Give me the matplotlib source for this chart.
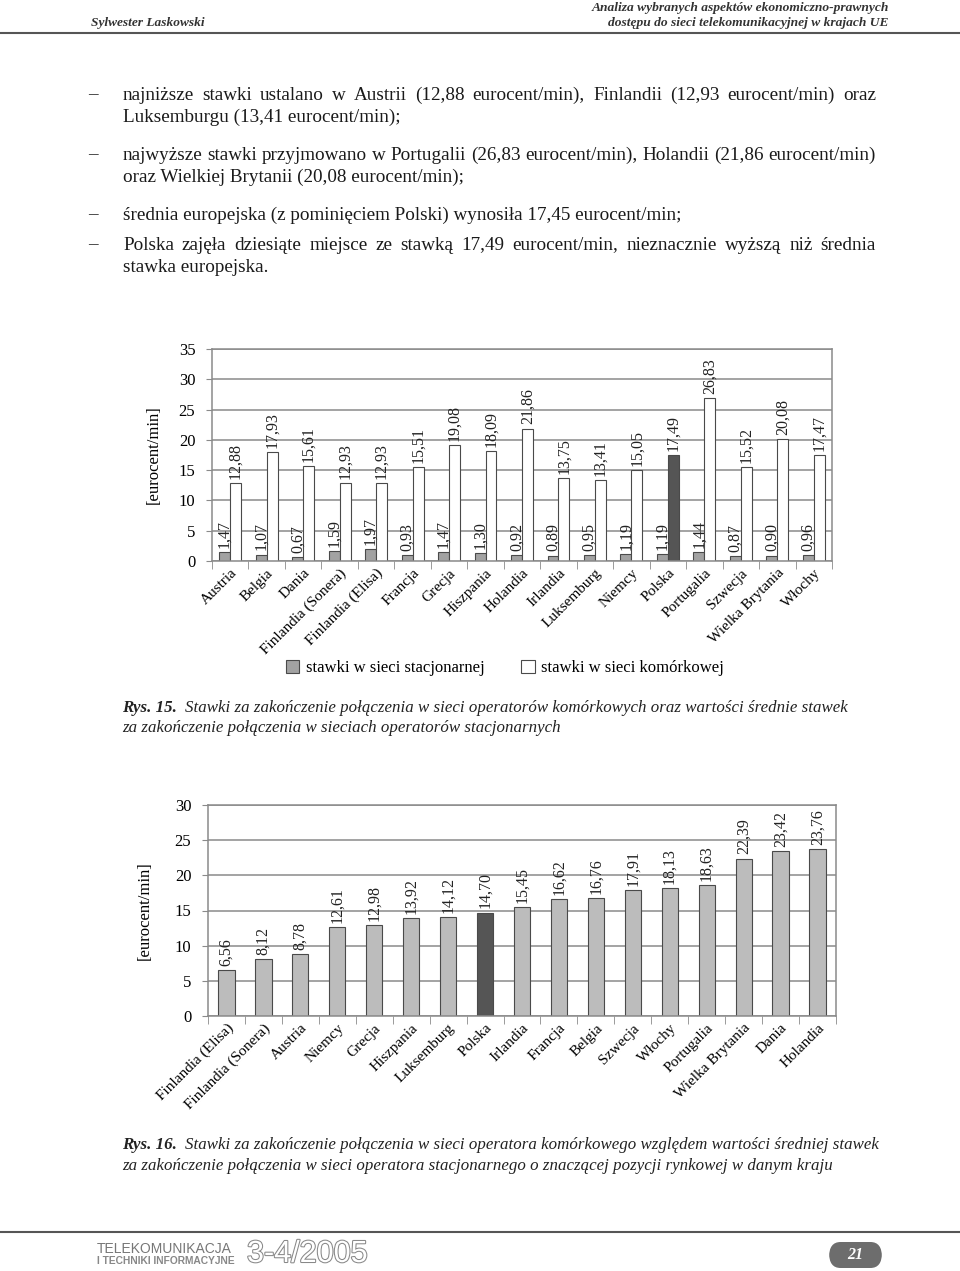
import matplotlib
matplotlib.use("Agg")
import matplotlib.pyplot as plt
import matplotlib.patheffects as pe
from matplotlib.patches import FancyBboxPatch, Rectangle
import numpy as np

W, H = 960, 1271
SERIF = "Liberation Serif"
plt.rcParams["font.family"] = [SERIF, "DejaVu Serif"]

# ---- data: Rys. 15
countries_15 = ["Austria", "Belgia", "Dania", "Finlandia (Sonera)", "Finlandia (Elisa)",
                "Francja", "Grecja", "Hiszpania", "Holandia", "Irlandia", "Luksemburg",
                "Niemcy", "Polska", "Portugalia", "Szwecja", "Wielka Brytania", "Włochy"]
fixed_rates = [1.47, 1.07, 0.67, 1.59, 1.97, 0.93, 1.47, 1.30, 0.92, 0.89, 0.95,
               1.19, 1.19, 1.44, 0.87, 0.90, 0.96]
mobile_rates = [12.88, 17.93, 15.61, 12.93, 12.93, 15.51, 19.08, 18.09, 21.86, 13.75,
                13.41, 15.05, 17.49, 26.83, 15.52, 20.08, 17.47]

# ---- data: Rys. 16
countries_16 = ["Finlandia (Elisa)", "Finlandia (Sonera)", "Austria", "Niemcy", "Grecja",
                "Hiszpania", "Luksemburg", "Polska", "Irlandia", "Francja", "Belgia",
                "Szwecja", "Włochy", "Portugalia", "Wielka Brytania", "Dania", "Holandia"]
ratio_rates = [6.56, 8.12, 8.78, 12.61, 12.98, 13.92, 14.12, 14.70, 15.45, 16.62, 16.76,
               17.91, 18.13, 18.63, 22.39, 23.42, 23.76]

bullets = [
    ["najniższe stawki ustalano w Austrii (12,88 eurocent/min), Finlandii (12,93 eurocent/min) oraz",
     "Luksemburgu (13,41 eurocent/min);"],
    ["najwyższe stawki przyjmowano w Portugalii (26,83 eurocent/min), Holandii (21,86 eurocent/min)",
     "oraz Wielkiej Brytanii (20,08 eurocent/min);"],
    ["średnia europejska (z pominięciem Polski) wynosiła 17,45 eurocent/min;"],
    ["Polska zajęła dziesiąte miejsce ze stawką 17,49 eurocent/min, nieznacznie wyższą niż średnia",
     "stawka europejska."],
]
bullet_y = [(95, 117), (155, 177), (215,), (245, 267)]
BODY = 13.8
CAP = 12.2


def fx(x):
    return x / W


def fy(y):
    return 1 - y / H


fig = plt.figure(figsize=(W / 100, H / 100), dpi=100)
fig.patch.set_facecolor("white")
renderer = fig.canvas.get_renderer()


def justified(text, x0, x1, y, size=BODY):
    words = text.split()
    arts = [fig.text(0, fy(y), w, fontsize=size, va="center", ha="left", color="#1a1a1a")
            for w in words]
    widths = [a.get_window_extent(renderer).width for a in arts]
    gap = (x1 - x0 - sum(widths)) / (len(words) - 1)
    x = x0
    for a, w in zip(arts, widths):
        a.set_x(fx(x))
        x += w + gap


def caption(label, lines, y0, y1):
    lab = fig.text(fx(122), fy(y0), label, fontsize=CAP, style="italic", weight="bold",
                   va="center", color="#222")
    end = 122 + lab.get_window_extent(renderer).width + 8
    fig.text(fx(end), fy(y0), lines[0], fontsize=CAP, style="italic", va="center", color="#222")
    fig.text(fx(122), fy(y1), lines[1], fontsize=CAP, style="italic", va="center", color="#222")


# header
fig.text(fx(91), fy(23), "Sylwester Laskowski", fontsize=9.6, style="italic",
         weight="bold", color="#333", va="center")
fig.text(fx(889), fy(8), "Analiza wybranych aspektów ekonomiczno-prawnych", fontsize=9.7,
         style="italic", weight="bold", color="#333", va="center", ha="right")
fig.text(fx(889), fy(23), "dostępu do sieci telekomunikacyjnej w krajach UE", fontsize=9.7,
         style="italic", weight="bold", color="#333", va="center", ha="right")
fig.add_artist(plt.Line2D([0, 1], [fy(33), fy(33)], color="#555", lw=1.5))

# body text
for lines, ys in zip(bullets, bullet_y):
    fig.text(fx(88), fy(ys[0]), "–", fontsize=BODY, va="center", color="#1a1a1a")
    for i, (line, y) in enumerate(zip(lines, ys)):
        if i < len(lines) - 1:
            justified(line, 123, 876, y)
        else:
            fig.text(fx(123), fy(y), line, fontsize=BODY, va="center", color="#1a1a1a")

GRID = "#8a8a8a"
EDGE = "#4a4a4a"


def style_axes(ax, ymax):
    ax.set_ylim(0, ymax)
    ax.set_yticks(np.arange(0, ymax + 1, 5))
    ax.yaxis.grid(True, color=GRID, lw=1.1)
    ax.set_axisbelow(True)
    for s in ax.spines.values():
        s.set_color(GRID)
        s.set_linewidth(1.1)
    ax.tick_params(axis="y", length=4, color=GRID, labelsize=12, pad=8)
    ax.tick_params(axis="x", which="major", length=0, labelsize=11, pad=4)
    ax.tick_params(axis="x", which="minor", length=6, color=GRID, direction="out")
    for lab in ax.get_xticklabels():
        lab.set_rotation(45)
        lab.set_ha("right")
        lab.set_rotation_mode("anchor")


# ---- Rys. 15
ax1 = fig.add_axes([fx(212), fy(561), fx(832) - fx(212), fy(349) - fy(561)])
x1 = np.arange(len(countries_15))
bw = 0.30
fixed_colors = ["#a2a2a2"] * len(countries_15)
mobile_colors = ["#555555" if c == "Polska" else "white" for c in countries_15]
bars_f = ax1.bar(x1 - bw / 2, fixed_rates, bw, color=fixed_colors, edgecolor=EDGE, lw=0.8)
bars_m = ax1.bar(x1 + bw / 2, mobile_rates, bw, color=mobile_colors, edgecolor=EDGE, lw=0.8)
for bars, vals in ((bars_f, fixed_rates), (bars_m, mobile_rates)):
    for b, v in zip(bars, vals):
        ax1.annotate(f"{v:.2f}".replace(".", ","), (b.get_x() + b.get_width() / 2, v),
                     xytext=(0, 3), textcoords="offset points", rotation=90,
                     ha="center", va="bottom", fontsize=11.5, color="#222")
ax1.set_xlim(-0.5, len(countries_15) - 0.5)
ax1.set_xticks(x1)
ax1.set_xticklabels(countries_15)
ax1.set_xticks(np.arange(-0.5, len(countries_15)), minor=True)
style_axes(ax1, 35)
ax1.set_ylabel("[eurocent/min]", fontsize=12, labelpad=12)

# legend for Rys. 15
handles = [Rectangle((0, 0), 1, 1, fc="#a2a2a2", ec=EDGE, lw=0.8),
           Rectangle((0, 0), 1, 1, fc="white", ec=EDGE, lw=0.8)]
fig.legend(handles, ["stawki w sieci stacjonarnej", "stawki w sieci komórkowej"],
           loc="center", bbox_to_anchor=(fx(505), fy(668)), ncol=2, frameon=False,
           fontsize=12, handlelength=0.8, handleheight=0.8, handletextpad=0.4,
           columnspacing=2.2)

caption("Rys. 15.",
        ["Stawki za zakończenie połączenia w sieci operatorów komórkowych oraz wartości średnie stawek",
         "za zakończenie połączenia w sieciach operatorów stacjonarnych"], 708, 728)

# ---- Rys. 16
ax2 = fig.add_axes([fx(208), fy(1016), fx(836) - fx(208), fy(805) - fy(1016)])
x2 = np.arange(len(countries_16))
colors_16 = ["#555555" if c == "Polska" else "#bcbcbc" for c in countries_16]
bars2 = ax2.bar(x2, ratio_rates, 0.44, color=colors_16, edgecolor=EDGE, lw=0.8)
for b, v in zip(bars2, ratio_rates):
    ax2.annotate(f"{v:.2f}".replace(".", ","), (b.get_x() + b.get_width() / 2, v),
                 xytext=(0, 3), textcoords="offset points", rotation=90,
                 ha="center", va="bottom", fontsize=11.5, color="#222")
ax2.set_xlim(-0.5, len(countries_16) - 0.5)
ax2.set_xticks(x2)
ax2.set_xticklabels(countries_16)
ax2.set_xticks(np.arange(-0.5, len(countries_16)), minor=True)
style_axes(ax2, 30)
ax2.set_ylabel("[eurocent/min]", fontsize=12, labelpad=16)

caption("Rys. 16.",
        ["Stawki za zakończenie połączenia w sieci operatora komórkowego względem wartości średniej stawek",
         "za zakończenie połączenia w sieci operatora stacjonarnego o znaczącej pozycji rynkowej w danym kraju"],
        1145, 1166)

# footer
fig.add_artist(plt.Line2D([0, 1], [fy(1232), fy(1232)], color="#555", lw=1.5))
fig.text(fx(97), fy(1249), "TELEKOMUNIKACJA", fontsize=10, ha="left", va="center",
         family="Liberation Sans", color="#777")
fig.text(fx(97), fy(1261), "I TECHNIKI INFORMACYJNE", fontsize=7.4, ha="left", va="center",
         family="Liberation Sans", weight="bold", color="#888")
fig.text(fx(247), fy(1254), "3-4/2005", fontsize=22, ha="left", va="center",
         family="Liberation Sans", color="white",
         path_effects=[pe.withStroke(linewidth=1.5, foreground="#888")])
fig.add_artist(FancyBboxPatch((fx(829), fy(1268)), fx(882) - fx(829), fy(1242) - fy(1268),
                              boxstyle="round,pad=0,rounding_size=0.012",
                              fc="#6d6d6d", ec="none", transform=fig.transFigure))
fig.text(fx(855), fy(1255), "21", fontsize=11.5, style="italic", weight="bold",
         color="white", ha="center", va="center")

fig.savefig("out.png", dpi=100, facecolor="white")
